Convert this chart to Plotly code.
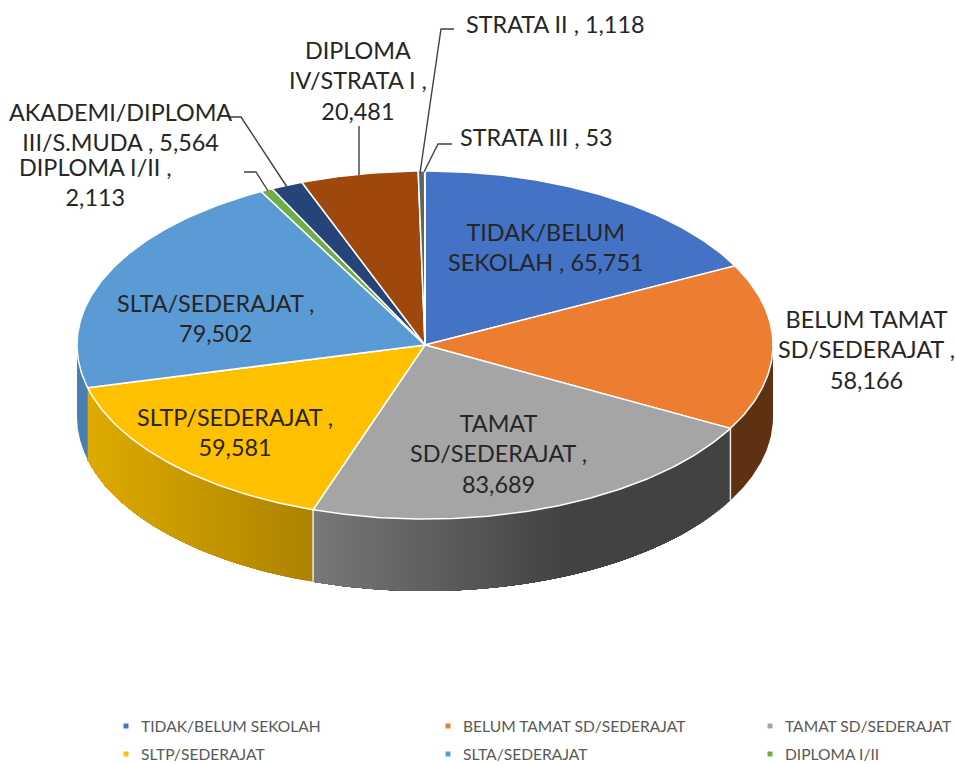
import numpy as np
import plotly.graph_objects as go

CATEGORIES = ["TIDAK/BELUM SEKOLAH", "BELUM TAMAT SD/SEDERAJAT", "TAMAT SD/SEDERAJAT",
              "SLTP/SEDERAJAT", "SLTA/SEDERAJAT", "DIPLOMA I/II",
              "AKADEMI/DIPLOMA III/S.MUDA", "DIPLOMA IV/STRATA I", "STRATA II", "STRATA III"]
VALUES = [65751, 58166, 83689, 59581, 79502, 2113, 5564, 20481, 1118, 53]
COLORS = ["#4472C4", "#ED7D31", "#A5A5A5", "#FFC000", "#5B9BD5", "#70AD47",
          "#264478", "#9E480E", "#636363", "#997300"]

# side wall shading, as (x pixel, rgb) stops
SIDE_STOPS = {
    1: [(730, (94, 49, 18)), (772, (94, 49, 18))],
    2: [(313, (122, 122, 122)), (570, (66, 66, 66)), (730, (66, 66, 66))],
    3: [(86, (224, 172, 0)), (313, (173, 131, 0))],
    4: [(77, (72, 126, 176)), (86, (72, 126, 176))],
}

# text, centre x, centre y
LABELS = [
    ("TIDAK/BELUM<br>SEKOLAH , 65,751", 546, 247),
    ("BELUM TAMAT<br>SD/SEDERAJAT ,<br>58,166", 866, 349),
    ("TAMAT<br>SD/SEDERAJAT ,<br>83,689", 498, 453),
    ("SLTP/SEDERAJAT ,<br>59,581", 235, 432),
    ("SLTA/SEDERAJAT ,<br>79,502", 215, 318),
    ("DIPLOMA I/II ,<br>2,113", 95, 182),
    ("AKADEMI/DIPLOMA<br>III/S.MUDA , 5,564", 120, 127),
    ("DIPLOMA<br>IV/STRATA I ,<br>20,481", 358, 80),
    ("STRATA II , 1,118", 555, 24),
    ("STRATA III , 53", 536, 137),
]
LEADERS = [
    ([454, 441, 420], [29, 29, 173]),
    ([452, 438, 424], [144, 144, 172]),
    ([359, 359], [126, 175]),
    ([228, 241, 287], [117, 117, 187]),
    ([244, 256, 268], [172, 172, 191]),
]
LEGEND_COLS = [126, 448, 770]
LEGEND_ROWS = [726, 754]
LEGEND_COUNT = 6

CX, CY, RX, RY, DEPTH = 425, 345, 348, 174, 72
FONT = "Lato"


def ex(a):
    return CX + RX * np.sin(a)


def ey(a):
    return CY - RY * np.cos(a)


def side_color(i, x):
    stops = SIDE_STOPS[i]
    xs = [s[0] for s in stops]
    return "rgb(%d,%d,%d)" % tuple(np.interp(x, xs, [s[1][c] for s in stops]) for c in range(3))


edges = np.concatenate([[0], np.cumsum(VALUES)]) / sum(VALUES) * 2 * np.pi
fig = go.Figure()

# side walls: each step paints the rest of the wall, so steps leave no seams
for i in SIDE_STOPS:
    a0, a1 = max(edges[i], np.pi / 2), min(edges[i + 1], 3 * np.pi / 2)
    flat = SIDE_STOPS[i][0][1] == SIDE_STOPS[i][-1][1]
    cuts = np.linspace(a0, a1, 2 if flat else 61)[:-1]
    if ex(a1) > ex(a0):
        cuts = cuts[::-1]
    for s in cuts:
        end = a1 if ex(a1) < ex(a0) else a0
        lo, hi = min(s, end), max(s, end)
        if ex(a1) > ex(a0):
            lo, hi = a0, s + (a1 - a0) / 60
        arc = np.linspace(lo, hi, 60)
        x = np.concatenate([ex(arc), ex(arc[::-1])])
        y = np.concatenate([ey(arc), ey(arc[::-1]) + DEPTH])
        col = side_color(i, ex(s))
        fig.add_trace(go.Scatter(x=x, y=y, mode="lines", fill="toself", fillcolor=col,
                                 line=dict(color=col, width=0), hoverinfo="skip", showlegend=False))

# white seams on the wall
for i in (2, 3):
    a = edges[i]
    fig.add_trace(go.Scatter(x=[ex(a), ex(a)], y=[ey(a), ey(a) + DEPTH], mode="lines",
                             line=dict(color="#E8E8E8", width=1.5), hoverinfo="skip", showlegend=False))

# top face
for i, name in enumerate(CATEGORIES):
    arc = np.linspace(edges[i], edges[i + 1], max(3, int((edges[i + 1] - edges[i]) * 80)))
    x = np.concatenate([[CX], ex(arc), [CX]])
    y = np.concatenate([[CY], ey(arc), [CY]])
    fig.add_trace(go.Scatter(x=x, y=y, mode="lines", fill="toself", fillcolor=COLORS[i], name=name,
                             line=dict(color="white", width=1.5), showlegend=False,
                             hovertemplate=name + ": %{text}<extra></extra>",
                             text=[f"{VALUES[i]:,}"] * len(x)))

# leader lines
for lx, ly in LEADERS:
    fig.add_trace(go.Scatter(x=lx, y=ly, mode="lines", line=dict(color="#404040", width=1.4),
                             hoverinfo="skip", showlegend=False))

# data labels
for text, x, y in LABELS:
    fig.add_annotation(x=x, y=y, text=text, showarrow=False, align="center",
                       font=dict(family=FONT, size=23.4, color="#262626"))

# legend
for i in range(LEGEND_COUNT):
    lx = LEGEND_COLS[i % 3]
    ly = LEGEND_ROWS[i // 3]
    fig.add_trace(go.Scatter(x=[lx], y=[ly], mode="markers",
                             marker=dict(symbol="square", size=5, color=COLORS[i]),
                             hoverinfo="skip", showlegend=False))
    fig.add_annotation(x=lx + 13, y=ly, text=CATEGORIES[i], showarrow=False, xanchor="left",
                       font=dict(family=FONT, size=15.6, color="#595959"))

fig.update_layout(
    width=955, height=764, margin=dict(l=0, r=0, t=0, b=0),
    paper_bgcolor="white", plot_bgcolor="white",
    xaxis=dict(range=[0, 955], visible=False, fixedrange=True),
    yaxis=dict(range=[764, 0], visible=False, fixedrange=True),
)
fig.write_html("out.html", config={"displayModeBar": False},
               post_script="document.body.style.margin='0';document.documentElement.style.overflow='hidden';")
